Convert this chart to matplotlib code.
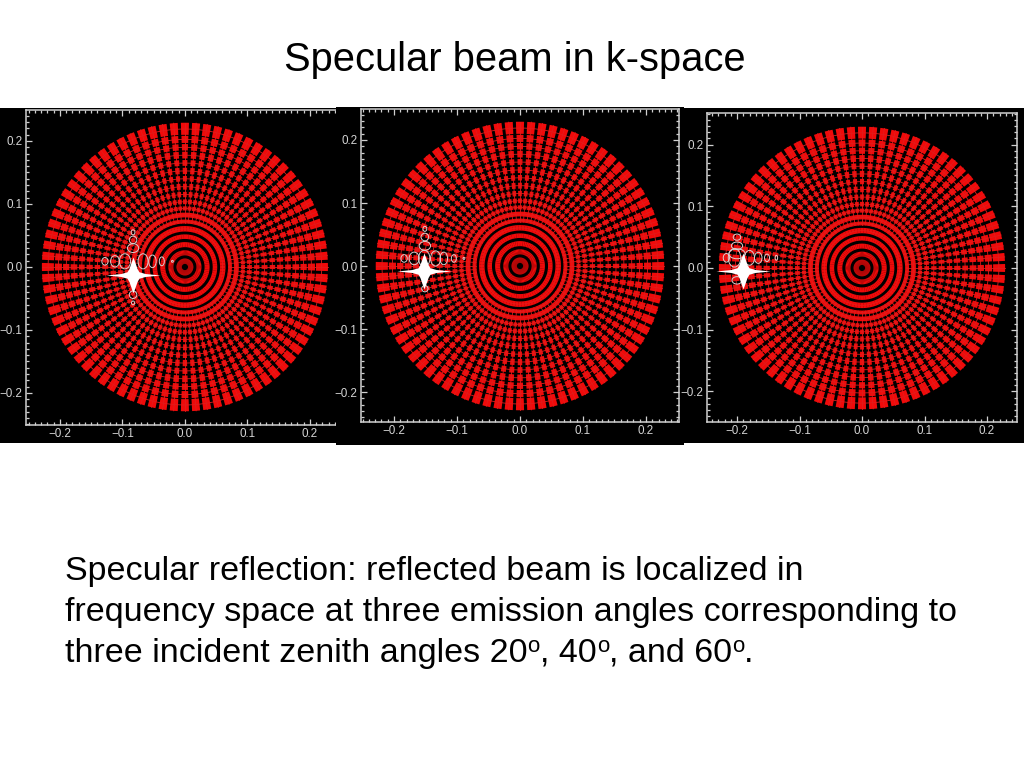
"""Specular beam in k-space: three polar sampling maps with the reflected lobe."""

import matplotlib

matplotlib.use("Agg")
import matplotlib.pyplot as plt
import numpy as np
from matplotlib.collections import PatchCollection
from matplotlib.patches import Ellipse, Wedge
from matplotlib.path import Path
from matplotlib.ticker import MultipleLocator

plt.rcParams["font.family"] = ["Liberation Sans", "DejaVu Sans"]

W, H = 1024, 768

TITLE = "Specular beam in k-space"
BODY_LINES = [
    "Specular reflection: reflected beam is localized in",
    "frequency space at three emission angles corresponding to",
]
# last line as (text, is_superscript) runs
LAST_LINE = [
    ("three incident zenith angles 20", False), ("o", True), (", 40", False), ("o", True),
    (", and 60", False), ("o", True), (".", False),
]

TICKS = [-0.2, -0.1, 0.0, 0.1, 0.2]
TICK_LABELS = ["\u22120.2", "\u22120.1", "0.0", "0.1", "0.2"]

# sample grid of k-space, same in every panel
SPOKE_ANGLES = [
    0.0, 4.5, 9.0, 13.5, 18.0, 22.5, 27.0, 31.5, 36.0, 40.5,
    45.0, 49.5, 54.0, 58.5, 63.0, 67.5, 72.0, 76.5, 81.0, 85.5,
    90.0, 94.5, 99.0, 103.5, 108.0, 112.5, 117.0, 121.5, 126.0, 130.5,
    135.0, 139.5, 144.0, 148.5, 153.0, 157.5, 162.0, 166.5, 171.0, 175.5,
    180.0, 184.5, 189.0, 193.5, 198.0, 202.5, 207.0, 211.5, 216.0, 220.5,
    225.0, 229.5, 234.0, 238.5, 243.0, 247.5, 252.0, 256.5, 261.0, 265.5,
    270.0, 274.5, 279.0, 283.5, 288.0, 292.5, 297.0, 301.5, 306.0, 310.5,
    315.0, 319.5, 324.0, 328.5, 333.0, 337.5, 342.0, 346.5, 351.0, 355.5,
]
BAND_EDGES = [0.005, 0.016, 0.029, 0.042, 0.054, 0.067, 0.077, 0.088, 0.098, 0.109,
              0.121, 0.134, 0.146, 0.159, 0.171, 0.184, 0.196, 0.209, 0.229]
GAP_WIDTHS = [0.0, 0.005, 0.005, 0.005, 0.0045, 0.004, 0.0035, 0.0035, 0.0035, 0.0035,
              0.0035, 0.0035, 0.003, 0.003, 0.0025, 0.002, 0.0018, 0.0015]
BAND_FILL = [1.0, 1.0, 1.0, 1.0, 1.0, 1.0, 1.0, 0.85, 0.75,
             0.65, 0.6, 0.58, 0.58, 0.6, 0.62, 0.65, 0.68, 0.72]
SPOKE_START = 0.07
RING_START = 0.05

# pixel boxes: black background, then axes frame
BG_BOXES = [(0, 108, 336, 443), (336, 107, 684, 445), (684, 108, 1024, 443)]
FRAME_BOXES = [(25.7, 110, 337, 425), (361, 109, 679, 422), (707, 113, 1017, 422)]
XLIMS = [(-0.2549, 0.2435), (-0.2524, 0.2524), (-0.248, 0.248)]
YLIMS = [(-0.2508, 0.2492), (-0.2476, 0.2492), (-0.2496, 0.2512)]
RIGHT_TICKS = [False, True, True]

# specular peak
STAR_X = [-0.0837, -0.152, -0.191]
STAR_Y = [-0.0127, -0.008, -0.0053]

# contours of the lobe around each peak
LOBE_X = [
    [-0.128, -0.112, -0.096, -0.067, -0.052, -0.037, -0.020, -0.083, -0.083, -0.083, -0.083, -0.083],
    [-0.184, -0.168, -0.152, -0.134, -0.121, -0.105, -0.089, -0.151, -0.151, -0.151, -0.151],
    [-0.217, -0.204, -0.180, -0.166, -0.152, -0.137, -0.200, -0.200, -0.200, -0.200],
]
LOBE_Y = [
    [0.009, 0.009, 0.009, 0.009, 0.009, 0.009, 0.009, 0.055, 0.043, 0.030, -0.044, -0.057],
    [0.012, 0.012, 0.012, 0.012, 0.012, 0.012, 0.012, 0.059, 0.046, 0.032, -0.036],
    [0.0165, 0.0165, 0.0165, 0.0165, 0.0165, 0.0165, 0.050, 0.036, 0.023, -0.020],
]
LOBE_W = [
    [0.010, 0.014, 0.018, 0.016, 0.012, 0.008, 0.003, 0.006, 0.012, 0.018, 0.012, 0.005],
    [0.010, 0.016, 0.018, 0.016, 0.012, 0.008, 0.003, 0.006, 0.012, 0.018, 0.010],
    [0.010, 0.020, 0.016, 0.012, 0.008, 0.004, 0.012, 0.018, 0.026, 0.016],
]
LOBE_H = [
    [0.012, 0.018, 0.024, 0.024, 0.020, 0.014, 0.003, 0.008, 0.012, 0.014, 0.012, 0.006],
    [0.012, 0.020, 0.026, 0.024, 0.020, 0.012, 0.003, 0.008, 0.012, 0.014, 0.010],
    [0.014, 0.030, 0.024, 0.018, 0.012, 0.008, 0.010, 0.012, 0.016, 0.012],
]

STAR_MARKER = Path(
    [(1, 0), (0.45, 0.055), (0.22, 0.12), (0.15, 0.24), (0.06, 0.5), (0, 0.66),
     (-0.06, 0.5), (-0.15, 0.24), (-0.22, 0.12), (-0.45, 0.055), (-1, 0),
     (-0.45, -0.055), (-0.22, -0.12), (-0.15, -0.24), (-0.06, -0.5), (0, -0.66),
     (0.06, -0.5), (0.15, -0.24), (0.22, -0.12), (0.45, -0.055), (1, 0)],
    closed=True,
)


def px_axes(fig, box, zorder):
    left, top, right, bottom = box
    return fig.add_axes([left / W, 1 - bottom / H, (right - left) / W, (bottom - top) / H],
                        zorder=zorder)


def draw_grid(ax):
    pitch = SPOKE_ANGLES[1] - SPOKE_ANGLES[0]
    patches = []
    for i, fill in enumerate(BAND_FILL):
        r0 = BAND_EDGES[i] + GAP_WIDTHS[i] / 2
        r1 = BAND_EDGES[i + 1] - (GAP_WIDTHS[i + 1] / 2 if i + 1 < len(GAP_WIDTHS) else 0)
        for a in SPOKE_ANGLES:
            half = pitch * fill / 2 + (0.2 if fill == 1.0 else 0)
            patches.append(Wedge((0, 0), r1, a - half, a + half, width=r1 - r0))
    ax.add_collection(PatchCollection(patches, facecolor="#f00a0a", edgecolor="none", zorder=2))

    # thin lattice lines crossing the black gaps
    theta = np.radians(np.linspace(0, 360, 361))
    for i in range(len(BAND_FILL)):
        r = (BAND_EDGES[i] + BAND_EDGES[i + 1]) / 2
        if r > RING_START:
            ax.plot(r * np.cos(theta), r * np.sin(theta), color="#e01c1c", lw=0.6, zorder=3)
    for a in SPOKE_ANGLES:
        t = np.radians(a)
        ax.plot([SPOKE_START * np.cos(t), BAND_EDGES[-1] * np.cos(t)],
                [SPOKE_START * np.sin(t), BAND_EDGES[-1] * np.sin(t)],
                color="#e01c1c", lw=0.6, zorder=3)


def style_axes(ax, xlim, ylim, right_ticks):
    ax.set_facecolor("black")
    ax.set_xlim(xlim)
    ax.set_ylim(ylim)
    ax.set_xticks(TICKS, TICK_LABELS)
    ax.set_yticks(TICKS, TICK_LABELS)
    ax.xaxis.set_minor_locator(MultipleLocator(0.01))
    ax.yaxis.set_minor_locator(MultipleLocator(0.01))
    ax.tick_params(which="both", direction="in", top=True, right=right_ticks,
                   color="#d0d0d0", width=0.9)
    ax.tick_params(which="major", length=4.5, labelsize=8.4, labelcolor="#d4d4d4", pad=2.5)
    ax.tick_params(which="minor", length=2.2)
    for spine in ax.spines.values():
        spine.set_color("#d0d0d0")
        spine.set_linewidth(1.1)


def draw_last_line(fig, x, base):
    renderer = fig.canvas.get_renderer()
    for text, is_sup in LAST_LINE:
        size = 16 if is_sup else 24.5
        y = base - 10 if is_sup else base
        t = fig.text(x / W, 1 - y / H, text, ha="left", va="baseline", fontsize=size, color="black")
        # trailing advance is what counts, so measure with a guard character
        t.set_text(text + "|")
        full = t.get_window_extent(renderer).width
        t.set_text("|")
        bar = t.get_window_extent(renderer).width
        t.set_text(text)
        x += full - bar


def main():
    fig = plt.figure(figsize=(W / 100, H / 100), dpi=100, facecolor="white")

    for n in range(3):
        bg = px_axes(fig, BG_BOXES[n], 2 * n)
        bg.set_facecolor("black")
        bg.set_xticks([])
        bg.set_yticks([])
        for spine in bg.spines.values():
            spine.set_visible(False)

        ax = px_axes(fig, FRAME_BOXES[n], 2 * n + 1)
        style_axes(ax, XLIMS[n], YLIMS[n], RIGHT_TICKS[n])
        draw_grid(ax)
        for x, y, w, h in zip(LOBE_X[n], LOBE_Y[n], LOBE_W[n], LOBE_H[n]):
            ax.add_patch(Ellipse((x, y), w, h, facecolor="none", edgecolor="#d8cfcf",
                                 lw=0.7, zorder=4))
        ax.plot(STAR_X[n], STAR_Y[n], marker=STAR_MARKER, ms=39, color="white",
                mec="none", zorder=5)

    fig.text(515 / W, 1 - 71 / H, TITLE, ha="center", va="baseline", fontsize=28.7, color="black")
    for text, base in zip(BODY_LINES, [580, 621]):
        fig.text(65 / W, 1 - base / H, text, ha="left", va="baseline", fontsize=24.5, color="black")
    draw_last_line(fig, 65, 662)

    fig.savefig("out.png", dpi=100)
    plt.close(fig)


if __name__ == "__main__":
    main()
